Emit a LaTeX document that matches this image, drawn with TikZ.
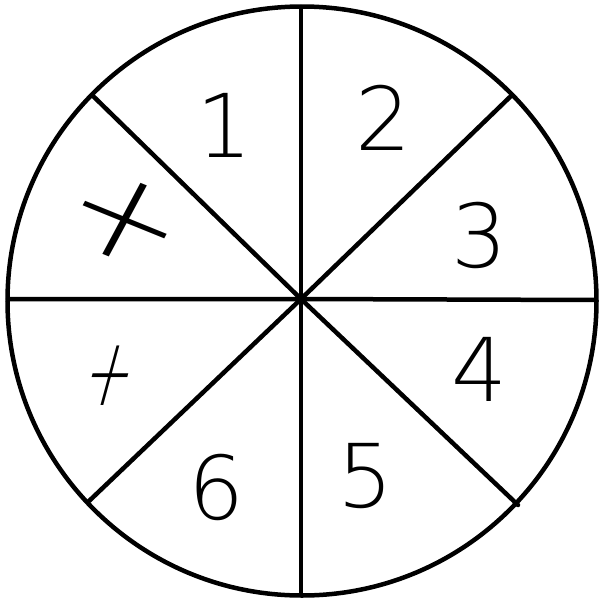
\documentclass[tikz,border=0pt]{standalone}
\usepackage{fontspec}
\newfontfamily\handfont{DejaVu Sans ExtraLight}
\begin{document}
\begin{tikzpicture}[x=1pt,y=-1pt,
  spoke/.style={line width=4.5pt,line cap=round},
  rim/.style={line width=4.5pt},
  digit/.style={font=\handfont\fontsize{88}{88}\selectfont,inner sep=0pt,anchor=center},
  mark/.style={font=\handfont\fontsize{#1}{#1}\selectfont,inner sep=0pt,anchor=center}]
\useasboundingbox (0,0) rectangle (606,606);
\fill[white] (0,0) rectangle (606,606);
\coordinate (O) at (301,299);
\node[draw,rim,circle,minimum size=589pt,inner sep=0pt] (wheel) at (302,301) {};
\coordinate (N) at (301,7);
\coordinate (S) at (301,595);
\coordinate (W) at (8,299);
\coordinate (E) at (596,300);
\coordinate (NW) at (92,95);
\coordinate (NE) at (512,95);
\coordinate (SW) at (88,502);
\coordinate (SE) at (518,505);
\draw[spoke] (N) -- (S);
\draw[spoke] (W) -- (O) -- (E);
\draw[spoke] (NW) -- (O) -- (SE);
\draw[spoke] (NE) -- (O) -- (SW);
\node[digit] (d1) at (224,125) {1};
\node[digit] (d2) at (383,118) {2};
\node[digit] (d3) at (479,235) {3};
\node[digit] (d4) at (479,369) {4};
\node[digit] (d5) at (365,476) {5};
\node[digit] (d6) at (216,487) {6};
\node[mark=125,xscale=1.15,rotate=-25] (x1) at (125,220) {+};
\node[mark=95,xscale=0.6,xslant=0.45] (x2) at (110,376) {+};
\end{tikzpicture}
\end{document}
